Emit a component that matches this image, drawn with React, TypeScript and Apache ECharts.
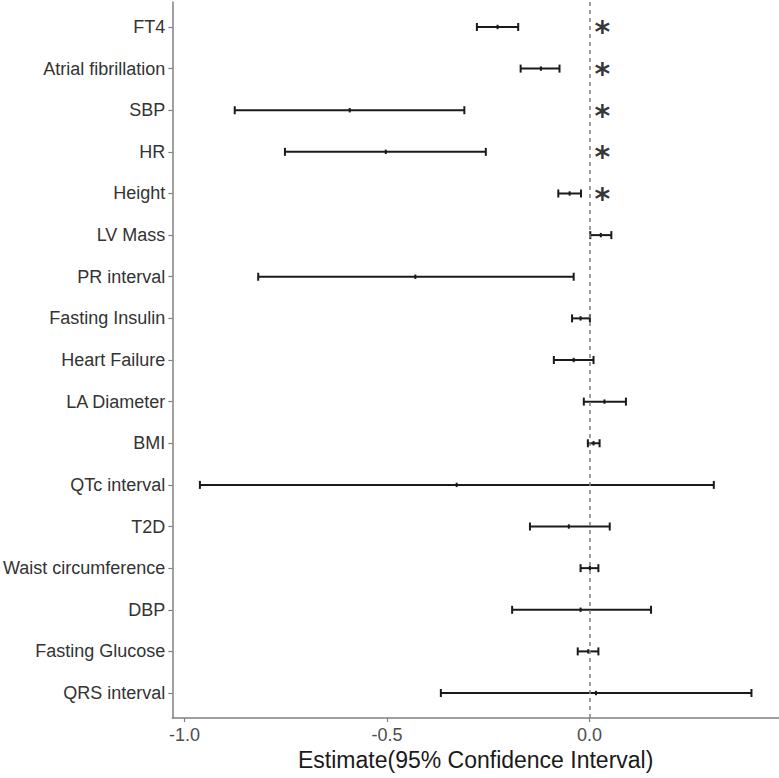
import React, { useEffect, useRef } from "react";
import * as echarts from "echarts";

const categories = [
  "FT4", "Atrial fibrillation", "SBP", "HR", "Height", "LV Mass", "PR interval",
  "Fasting Insulin", "Heart Failure", "LA Diameter", "BMI", "QTc interval", "T2D",
  "Waist circumference", "DBP", "Fasting Glucose", "QRS interval",
];
const lower = [-0.278, -0.170, -0.876, -0.752, -0.077, 0.002, -0.818, -0.043, -0.088, -0.014, -0.004, -0.962, -0.147, -0.022, -0.191, -0.029, -0.367];
const estimate = [-0.227, -0.120, -0.592, -0.503, -0.049, 0.028, -0.430, -0.022, -0.039, 0.037, 0.010, -0.328, -0.051, 0.001, -0.022, -0.003, 0.016];
const upper = [-0.176, -0.074, -0.309, -0.256, -0.021, 0.054, -0.039, 0.001, 0.010, 0.090, 0.025, 0.307, 0.050, 0.022, 0.152, 0.022, 0.400];
const significant = [true, true, true, true, true, false, false, false, false, false, false, false, false, false, false, false, false];
const starX = 0.032;
const xTicks = [-1.0, -0.5, 0.0];

const FONT = "'Liberation Sans', Arial, sans-serif";

export default function App() {
  const ref = useRef<HTMLDivElement>(null);
  useEffect(() => {
    if (!ref.current) return;
    const chart = echarts.init(ref.current, null, { renderer: "svg" });
    const barData = categories.map((_, i) => [lower[i], estimate[i], upper[i], i]);
    const starData = categories
      .map((_, i) => (significant[i] ? [starX, i] : null))
      .filter((d) => d !== null);
    const yIdx = categories.map((_, i) => i);

    chart.setOption({
      animation: false,
      backgroundColor: "#ffffff",
      grid: { left: 172, right: 0, top: 2, bottom: 60, containLabel: false },
      xAxis: {
        type: "value",
        min: -1.03,
        max: 0.468,
        splitLine: { show: false },
        axisLine: { show: true, onZero: false, lineStyle: { color: "#808080", width: 1.5 } },
        axisTick: { show: true, length: 4, customValues: xTicks, lineStyle: { color: "#808080", width: 1.2 } },
        axisLabel: {
          customValues: xTicks,
          margin: 8,
          fontSize: 18,
          fontFamily: FONT,
          color: "#4d4d4d",
          formatter: (v: number) => v.toFixed(1),
        },
        name: "Estimate(95% Confidence Interval)",
        nameLocation: "middle",
        nameGap: 28,
        nameTextStyle: { fontSize: 23, fontFamily: FONT, color: "#1a1a1a", verticalAlign: "top" },
      },
      yAxis: {
        type: "value",
        inverse: true,
        min: -0.6,
        max: 16.6,
        splitLine: { show: false },
        axisLine: { show: true, onZero: false, lineStyle: { color: "#808080", width: 1.5 } },
        axisTick: { show: true, length: 4, customValues: yIdx, lineStyle: { color: "#808080", width: 1.2 } },
        axisLabel: {
          customValues: yIdx,
          margin: 7,
          fontSize: 18,
          fontFamily: FONT,
          color: "#333333",
          formatter: (v: number) => categories[Math.round(v)] ?? "",
        },
      },
      series: [
        {
          type: "custom",
          data: barData,
          encode: { x: [0, 1, 2], y: 3 },
          renderItem: (params: any, api: any) => {
            const y = api.value(3);
            const lo = api.coord([api.value(0), y]);
            const mid = api.coord([api.value(1), y]);
            const hi = api.coord([api.value(2), y]);
            const style = { stroke: "#1a1a1a", lineWidth: 2 };
            return {
              type: "group",
              children: [
                { type: "line", shape: { x1: lo[0], y1: lo[1], x2: hi[0], y2: hi[1] }, style },
                { type: "line", shape: { x1: lo[0], y1: lo[1] - 4, x2: lo[0], y2: lo[1] + 4 }, style },
                { type: "line", shape: { x1: hi[0], y1: hi[1] - 4, x2: hi[0], y2: hi[1] + 4 }, style },
                { type: "line", shape: { x1: mid[0], y1: mid[1] - 2.2, x2: mid[0], y2: mid[1] + 2.2 }, style },
              ],
            };
          },
          markLine: {
            silent: true,
            symbol: "none",
            label: { show: false },
            lineStyle: { color: "#808080", type: [4, 4], width: 1.5 },
            data: [{ xAxis: 0 }],
          },
          z: 3,
        },
        {
          type: "scatter",
          data: starData,
          symbolSize: 1,
          itemStyle: { color: "transparent" },
          label: {
            show: true,
            position: "inside",
            formatter: "*",
            fontSize: 30,
            fontWeight: "bold",
            fontFamily: "'DejaVu Sans', sans-serif",
            color: "#000000",
            offset: [0, 5],
          },
          z: 4,
        },
      ],
    });
    return () => chart.dispose();
  }, []);

  return (
    <div
      ref={ref}
      style={{ position: "fixed", left: 0, top: 0, width: 779, height: 778, background: "#fff" }}
    />
  );
}
